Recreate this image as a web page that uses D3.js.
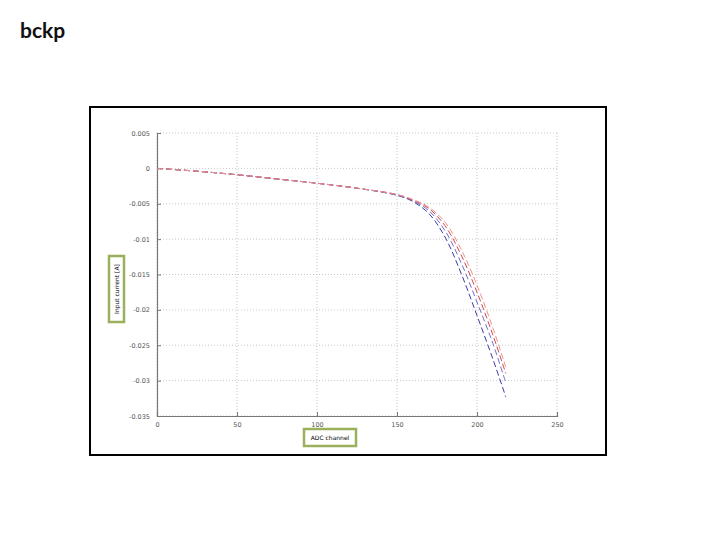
<!DOCTYPE html>
<html><head><meta charset="utf-8">
<script src="https://cdn.jsdelivr.net/npm/d3@7"></script>
<style>body{margin:0;background:#fff;} svg{display:block;}</style>
</head><body>
<svg id="c" width="720" height="540"></svg>
<script>
// ---- data ----
const title = "bckp";
const xLabel = "ADC channel";
const yLabel = "Input current [A]";
const xTicks = [0, 50, 100, 150, 200, 250];
const yTicks = [0.005, 0, -0.005, -0.01, -0.015, -0.02, -0.025, -0.03, -0.035];
const yTickLabels = ["0.005", "0", "-0.005", "-0.01", "-0.015", "-0.02", "-0.025", "-0.03", "-0.035"];
const adc = [0, 25, 50, 75, 100, 125, 150, 160, 170, 180, 190, 200, 210, 218];
const seriesBlue1 = [0, -0.0004, -0.0009, -0.0015, -0.0021, -0.0028, -0.0038, -0.0047, -0.0064, -0.0097, -0.0148, -0.0208, -0.0270, -0.0323];
const seriesBlue2 = [0, -0.0004, -0.0009, -0.0015, -0.0021, -0.0028, -0.0038, -0.0046, -0.0060, -0.0088, -0.0133, -0.0189, -0.0248, -0.0303];
const seriesRed1  = [0, -0.0004, -0.0009, -0.0015, -0.0021, -0.0028, -0.0037, -0.0045, -0.0057, -0.0081, -0.0122, -0.0175, -0.0236, -0.0290];
const seriesRed2  = [0, -0.0004, -0.0009, -0.0015, -0.0021, -0.0028, -0.0037, -0.0044, -0.0055, -0.0076, -0.0114, -0.0165, -0.0226, -0.0281];
const seriesColors = ["#3a3aa8", "#6f6fd0", "#d04848", "#ee9090"];

const svg = d3.select("#c");

// title
svg.append("text").attr("x", 20).attr("y", 38)
  .attr("font-family", "Lato, 'Open Sans', sans-serif").attr("font-size", 21).attr("font-weight", "bold")
  .attr("fill", "#111").text(title);

// outer frame
svg.append("rect").attr("x", 90).attr("y", 107).attr("width", 516).attr("height", 348)
  .attr("fill", "#fff").attr("stroke", "#000").attr("stroke-width", 2);

const x = d3.scaleLinear().domain([0, 250]).range([157, 557]);
const y = d3.scaleLinear().domain([-0.035, 0.005]).range([416, 133]);

// grid
const g = svg.append("g");
g.selectAll("line.gy").data(yTicks).join("line")
  .attr("x1", x(0)).attr("x2", x(250)).attr("y1", d => y(d)).attr("y2", d => y(d))
  .attr("stroke", "#bbb").attr("stroke-width", 0.8).attr("stroke-dasharray", "1,2");
g.selectAll("line.gx").data(xTicks).join("line")
  .attr("x1", d => x(d)).attr("x2", d => x(d)).attr("y1", y(0.005)).attr("y2", y(-0.035))
  .attr("stroke", "#bbb").attr("stroke-width", 0.8).attr("stroke-dasharray", "1,2");

// axes (inward ticks)
const yAxis = d3.axisLeft(y).tickValues(yTicks).tickSize(-4).tickPadding(7)
  .tickFormat((d, i) => yTickLabels[i]);
const xAxis = d3.axisBottom(x).tickValues(xTicks).tickSize(-4).tickPadding(6);
const ya = svg.append("g").attr("transform", `translate(${x(0)},0)`).call(yAxis);
const xa = svg.append("g").attr("transform", `translate(0,${y(-0.035)})`).call(xAxis);
[ya, xa].forEach(a => {
  a.select(".domain").attr("stroke", "#777").attr("stroke-width", 1.2);
  a.selectAll(".tick line").attr("stroke", "#777");
  a.selectAll(".tick text").attr("font-family", "'DejaVu Sans', sans-serif")
    .attr("font-size", 6.5).attr("fill", "#555");
});

// series
const line = d3.line().x((d, i) => x(adc[i])).y(d => y(d)).curve(d3.curveCatmullRom.alpha(0.5));
[seriesBlue1, seriesBlue2, seriesRed1, seriesRed2].forEach((s, k) => {
  svg.append("path").attr("d", line(s)).attr("fill", "none")
    .attr("stroke", seriesColors[k]).attr("stroke-width", 1)
    .attr("stroke-dasharray", "6,3");
});

// y label box
svg.append("rect").attr("x", 109).attr("y", 256).attr("width", 15).attr("height", 66)
  .attr("fill", "#fff").attr("stroke", "#9bb05a").attr("stroke-width", 2.5);
svg.append("text").attr("transform", "translate(119,289) rotate(-90)")
  .attr("text-anchor", "middle").attr("font-family", "'DejaVu Sans', sans-serif")
  .attr("font-size", 6).attr("fill", "#000").text(yLabel);

// x label box
svg.append("rect").attr("x", 304).attr("y", 429).attr("width", 52).attr("height", 17)
  .attr("fill", "#fff").attr("stroke", "#9bb05a").attr("stroke-width", 2.5);
svg.append("text").attr("x", 330).attr("y", 440)
  .attr("text-anchor", "middle").attr("font-family", "'DejaVu Sans', sans-serif")
  .attr("font-size", 6).attr("fill", "#000").text(xLabel);
</script>
</body></html>
